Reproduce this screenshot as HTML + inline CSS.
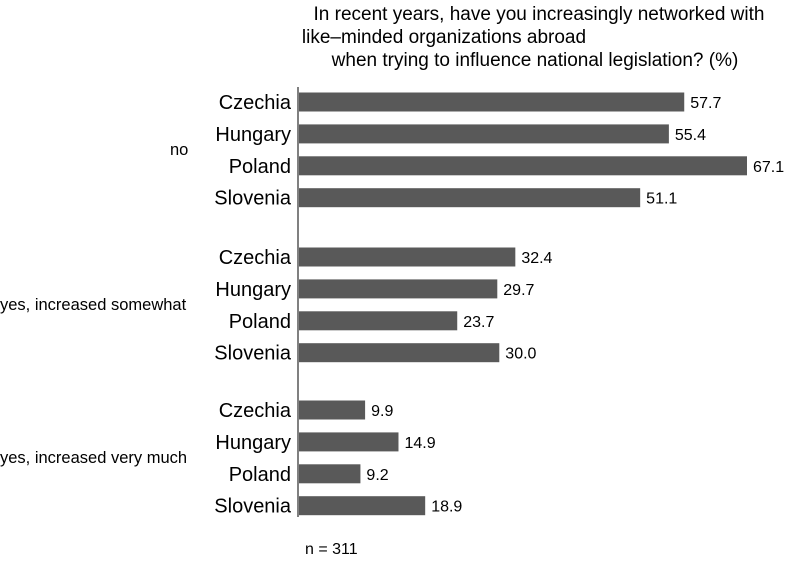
<!DOCTYPE html>
<html><head><meta charset="utf-8"><style>
body{margin:0;background:#fff;font-family:"Liberation Sans",Arial,sans-serif;}
svg{display:block}
</style></head><body>
<svg id="chart" width="787" height="566">
<g font-size="19" fill="#000" text-anchor="middle">
<text x="539" y="20">In recent years, have you increasingly networked with</text>
<text x="444" y="43">like–minded organizations abroad</text>
<text x="535" y="66">when trying to influence national legislation? (%)</text>
</g>
<line x1="298" y1="87" x2="298" y2="517" stroke="#000" stroke-width="1"/>
<text x="305" y="554" font-size="16">n = 311</text>
<g id="bars"></g>
</svg>
<script>
const groups = ["no", "yes, increased somewhat", "yes, increased very much"];
const countries = ["Czechia", "Hungary", "Poland", "Slovenia"];
const valuesNo = [57.7, 55.4, 67.1, 51.1];
const valuesSomewhat = [32.4, 29.7, 23.7, 30.0];
const valuesVeryMuch = [9.9, 14.9, 9.2, 18.9];
const series = [valuesNo, valuesSomewhat, valuesVeryMuch];

const x0 = 299, pxPerUnit = 448 / 67.1;
const xScale = v => x0 + v * pxPerUnit;
const rowStep = 31.9, groupStart = [102, 257, 410], barH = 19;
const yScale = (g, i) => groupStart[g] + i * rowStep;

const ns = "http://www.w3.org/2000/svg";
const root = document.getElementById("bars");
function mk(tag, attrs, text) {
  const e = document.createElementNS(ns, tag);
  for (const k in attrs) e.setAttribute(k, attrs[k]);
  if (text !== undefined) e.textContent = text;
  root.appendChild(e);
  return e;
}
groups.forEach((g, gi) => {
  const gy = (yScale(gi, 0) + yScale(gi, 3)) / 2;
  const gl = mk("text", {x: gi === 0 ? 170 : 0, y: gy + 5, "font-size": 16.5}, g);
  
  
  countries.forEach((c, i) => {
    const v = series[gi][i];
    const y = yScale(gi, i);
    const lab = mk("text", {x: 291, y: y + 7, "font-size": 20, "text-anchor": "end"}, c);
    
    
    const r = mk("rect", {x: x0, y: y - barH / 2, width: xScale(v) - x0, height: barH, fill: "#595959"});
    
    
    const t = mk("text", {x: xScale(v) + 6, y: y + 6, "font-size": 16}, v.toFixed(1));
    
    
  });
});
</script>
</body></html>
